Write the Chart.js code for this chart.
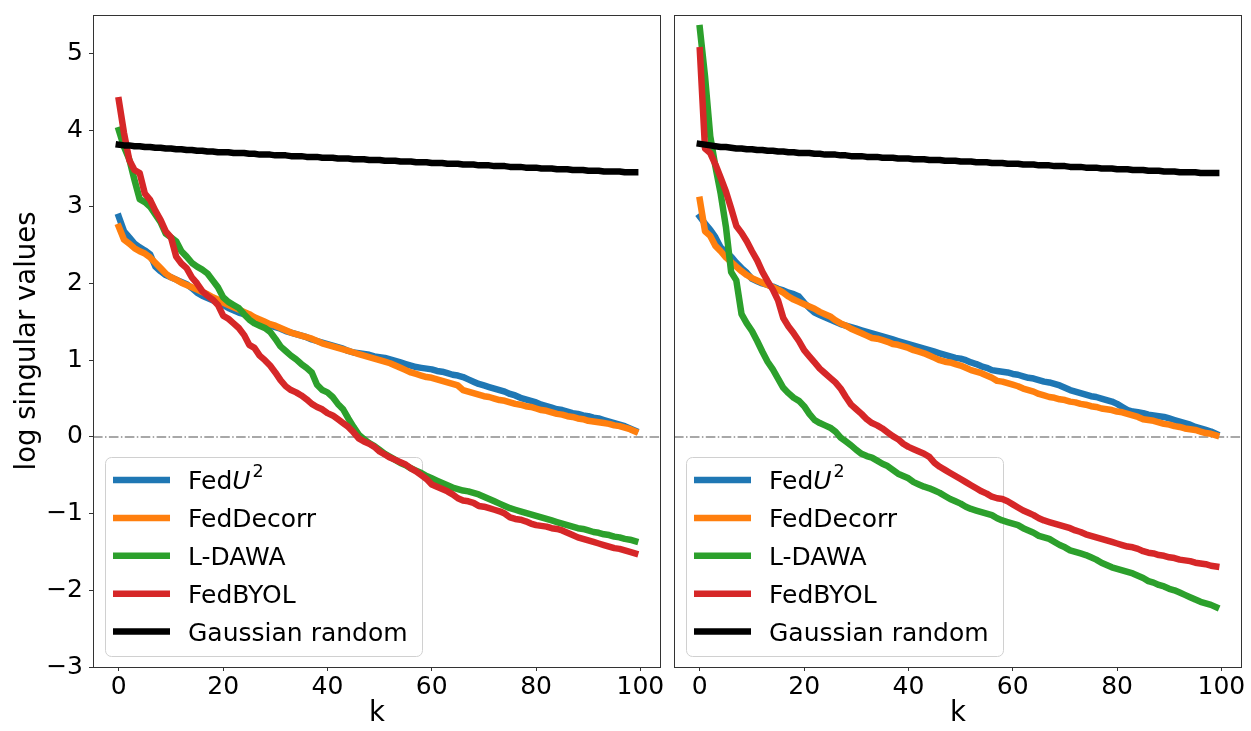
<!DOCTYPE html>
<html>
<head>
<meta charset="utf-8">
<title>log singular values</title>
<script src="https://cdn.jsdelivr.net/npm/chart.js@4.4.1/dist/chart.umd.min.js"></script>
<style>
  html, body { margin: 0; padding: 0; background: #fff; }
  #wrap { position: relative; width: 1251px; height: 731px; overflow: hidden; }
  canvas { position: absolute; top: 0; }
  #leftChart { left: 0; }
  #rightChart { left: 668px; }
</style>
</head>
<body>
<div id="wrap">
  <canvas id="leftChart" width="668" height="731"></canvas>
  <canvas id="rightChart" width="583" height="731"></canvas>
</div>
<script>
// Series and axis setup
const seriesNames = ['FedU²', 'FedDecorr', 'L-DAWA', 'FedBYOL', 'Gaussian random'];
const seriesColors = ['#1f77b4', '#ff7f0e', '#2ca02c', '#d62728', '#000000'];
const xTicks = [0, 20, 40, 60, 80, 100];
const yTicks = [-3, -2, -1, 0, 1, 2, 3, 4, 5];
const kValues = Array.from({ length: 100 }, (_, i) => i);

// Left panel
const leftFedU2 = [
  2.87, 2.68, 2.60, 2.52, 2.47, 2.43, 2.38, 2.22, 2.16, 2.11,
  2.08, 2.05, 2.02, 1.99, 1.94, 1.88, 1.84, 1.81, 1.78, 1.75,
  1.72, 1.68, 1.65, 1.62, 1.60, 1.57, 1.54, 1.51, 1.49, 1.45,
  1.43, 1.41, 1.38, 1.36, 1.34, 1.32, 1.30, 1.27, 1.25, 1.23,
  1.21, 1.19, 1.17, 1.15, 1.12, 1.10, 1.09, 1.08, 1.07, 1.05,
  1.04, 1.03, 1.01, 0.99, 0.97, 0.95, 0.93, 0.91, 0.90, 0.89,
  0.88, 0.86, 0.85, 0.83, 0.81, 0.80, 0.78, 0.75, 0.72, 0.69,
  0.67, 0.65, 0.63, 0.61, 0.59, 0.56, 0.54, 0.51, 0.49, 0.47,
  0.45, 0.42, 0.40, 0.38, 0.36, 0.35, 0.33, 0.31, 0.30, 0.28,
  0.27, 0.25, 0.24, 0.22, 0.20, 0.18, 0.16, 0.14, 0.11, 0.08
];
const leftFedDecorr = [
  2.74, 2.57, 2.52, 2.46, 2.42, 2.39, 2.34, 2.27, 2.20, 2.13,
  2.08, 2.05, 2.01, 1.98, 1.95, 1.92, 1.89, 1.86, 1.82, 1.79,
  1.75, 1.72, 1.69, 1.66, 1.63, 1.60, 1.56, 1.53, 1.50, 1.47,
  1.45, 1.42, 1.39, 1.36, 1.34, 1.32, 1.30, 1.28, 1.25, 1.22,
  1.20, 1.18, 1.16, 1.14, 1.12, 1.10, 1.08, 1.06, 1.04, 1.02,
  1.00, 0.98, 0.96, 0.93, 0.90, 0.87, 0.84, 0.82, 0.80, 0.78,
  0.77, 0.75, 0.73, 0.71, 0.69, 0.67, 0.61, 0.59, 0.57, 0.55,
  0.53, 0.52, 0.50, 0.48, 0.47, 0.45, 0.43, 0.42, 0.40, 0.39,
  0.37, 0.35, 0.34, 0.32, 0.30, 0.29, 0.27, 0.26, 0.24, 0.23,
  0.21, 0.20, 0.19, 0.18, 0.17, 0.15, 0.14, 0.12, 0.10, 0.07
];
const leftLDAWA = [
  4.00, 3.78, 3.62, 3.35, 3.10, 3.06, 3.00, 2.90, 2.80, 2.65,
  2.60, 2.55, 2.42, 2.35, 2.27, 2.22, 2.18, 2.13, 2.04, 1.95,
  1.82, 1.76, 1.72, 1.68, 1.60, 1.53, 1.48, 1.45, 1.42, 1.37,
  1.28, 1.18, 1.12, 1.06, 1.01, 0.95, 0.90, 0.84, 0.68, 0.61,
  0.58, 0.52, 0.43, 0.36, 0.24, 0.13, 0.03, -0.03, -0.08, -0.12,
  -0.17, -0.22, -0.26, -0.30, -0.34, -0.37, -0.41, -0.44, -0.47, -0.51,
  -0.54, -0.57, -0.60, -0.63, -0.66, -0.68, -0.70, -0.71, -0.73, -0.75,
  -0.78, -0.81, -0.84, -0.87, -0.90, -0.93, -0.95, -0.97, -0.99, -1.01,
  -1.03, -1.05, -1.07, -1.09, -1.11, -1.13, -1.15, -1.17, -1.19, -1.20,
  -1.22, -1.24, -1.25, -1.27, -1.28, -1.30, -1.31, -1.33, -1.34, -1.36
];
const leftFedBYOL = [
  4.39, 3.96, 3.61, 3.48, 3.44, 3.17, 3.09, 2.95, 2.83, 2.68,
  2.60, 2.35, 2.26, 2.20, 2.08, 2.00, 1.90, 1.84, 1.79, 1.72,
  1.58, 1.54, 1.48, 1.42, 1.33, 1.20, 1.16, 1.06, 1.00, 0.93,
  0.84, 0.74, 0.66, 0.61, 0.58, 0.54, 0.49, 0.43, 0.39, 0.36,
  0.31, 0.28, 0.23, 0.18, 0.13, 0.06, -0.02, -0.06, -0.09, -0.13,
  -0.19, -0.23, -0.27, -0.30, -0.33, -0.36, -0.41, -0.45, -0.50, -0.55,
  -0.62, -0.65, -0.68, -0.71, -0.75, -0.80, -0.83, -0.84, -0.86, -0.90,
  -0.91, -0.93, -0.95, -0.97, -1.00, -1.05, -1.07, -1.08, -1.10, -1.13,
  -1.15, -1.16, -1.17, -1.19, -1.20, -1.22, -1.25, -1.28, -1.31, -1.33,
  -1.35, -1.37, -1.39, -1.41, -1.43, -1.45, -1.46, -1.48, -1.50, -1.52
];
const leftGaussian = [
  3.81, 3.80, 3.80, 3.79, 3.79, 3.78, 3.78, 3.77, 3.77, 3.76,
  3.76, 3.75, 3.75, 3.74, 3.74, 3.73, 3.73, 3.72, 3.72, 3.71,
  3.71, 3.71, 3.70, 3.70, 3.70, 3.69, 3.69, 3.68, 3.68, 3.68,
  3.67, 3.67, 3.67, 3.66, 3.66, 3.66, 3.65, 3.65, 3.65, 3.64,
  3.64, 3.64, 3.63, 3.63, 3.63, 3.62, 3.62, 3.62, 3.61, 3.61,
  3.61, 3.60, 3.60, 3.60, 3.59, 3.59, 3.59, 3.58, 3.58, 3.58,
  3.57, 3.57, 3.57, 3.56, 3.56, 3.56, 3.55, 3.55, 3.55, 3.54,
  3.54, 3.54, 3.53, 3.53, 3.53, 3.52, 3.52, 3.52, 3.51, 3.51,
  3.51, 3.50, 3.50, 3.50, 3.49, 3.49, 3.49, 3.48, 3.48, 3.48,
  3.47, 3.47, 3.47, 3.46, 3.46, 3.46, 3.46, 3.45, 3.45, 3.45
];

// Right panel
const rightFedU2 = [
  2.87, 2.78, 2.70, 2.60, 2.47, 2.41, 2.35, 2.27, 2.20, 2.14,
  2.06, 2.03, 2.00, 1.98, 1.96, 1.93, 1.91, 1.88, 1.86, 1.83,
  1.75, 1.68, 1.62, 1.59, 1.56, 1.53, 1.50, 1.47, 1.45, 1.43,
  1.41, 1.39, 1.37, 1.35, 1.33, 1.31, 1.29, 1.27, 1.25, 1.23,
  1.21, 1.19, 1.17, 1.15, 1.13, 1.11, 1.09, 1.07, 1.05, 1.03,
  1.02, 1.00, 0.97, 0.95, 0.92, 0.90, 0.87, 0.86, 0.85, 0.84,
  0.82, 0.81, 0.79, 0.77, 0.76, 0.74, 0.72, 0.71, 0.69, 0.67,
  0.64, 0.61, 0.59, 0.57, 0.55, 0.53, 0.52, 0.50, 0.48, 0.46,
  0.43, 0.39, 0.35, 0.33, 0.32, 0.31, 0.29, 0.28, 0.27, 0.26,
  0.24, 0.22, 0.20, 0.18, 0.16, 0.13, 0.11, 0.09, 0.07, 0.04
];
const rightFedDecorr = [
  3.09, 2.68, 2.62, 2.49, 2.42, 2.34, 2.28, 2.22, 2.16, 2.11,
  2.07, 2.04, 2.01, 1.98, 1.95, 1.92, 1.88, 1.83, 1.79, 1.76,
  1.73, 1.70, 1.67, 1.63, 1.60, 1.57, 1.52, 1.48, 1.45, 1.41,
  1.38, 1.35, 1.32, 1.29, 1.28, 1.26, 1.24, 1.21, 1.20, 1.18,
  1.16, 1.13, 1.11, 1.09, 1.06, 1.03, 1.00, 0.98, 0.97, 0.95,
  0.93, 0.90, 0.87, 0.85, 0.83, 0.80, 0.77, 0.73, 0.72, 0.70,
  0.68, 0.66, 0.63, 0.61, 0.59, 0.56, 0.54, 0.52, 0.51, 0.49,
  0.48, 0.46, 0.45, 0.43, 0.42, 0.40, 0.39, 0.37, 0.36, 0.35,
  0.33, 0.32, 0.30, 0.28, 0.26, 0.23, 0.22, 0.21, 0.19, 0.17,
  0.16, 0.14, 0.13, 0.11, 0.10, 0.09, 0.07, 0.05, 0.04, 0.02
];
const rightLDAWA = [
  5.33, 4.70, 3.92, 3.52, 3.17, 2.74, 2.15, 2.04, 1.60, 1.48,
  1.38, 1.25, 1.11, 0.98, 0.88, 0.76, 0.64, 0.57, 0.51, 0.47,
  0.40, 0.30, 0.22, 0.18, 0.15, 0.12, 0.07, -0.01, -0.06, -0.11,
  -0.17, -0.22, -0.25, -0.27, -0.31, -0.35, -0.38, -0.43, -0.48, -0.51,
  -0.54, -0.59, -0.62, -0.65, -0.67, -0.70, -0.73, -0.77, -0.81, -0.84,
  -0.87, -0.91, -0.94, -0.96, -0.98, -1.00, -1.02, -1.06, -1.09, -1.11,
  -1.13, -1.15, -1.19, -1.22, -1.25, -1.29, -1.31, -1.33, -1.37, -1.41,
  -1.44, -1.48, -1.50, -1.52, -1.54, -1.57, -1.60, -1.64, -1.67, -1.70,
  -1.72, -1.74, -1.76, -1.78, -1.81, -1.84, -1.88, -1.90, -1.93, -1.95,
  -1.98, -2.00, -2.03, -2.06, -2.09, -2.12, -2.15, -2.17, -2.19, -2.22
];
const rightFedBYOL = [
  5.04, 3.76, 3.70, 3.55, 3.38, 3.20, 2.98, 2.75, 2.66, 2.55,
  2.42, 2.30, 2.15, 2.03, 1.92, 1.78, 1.55, 1.44, 1.35, 1.25,
  1.13, 1.05, 0.97, 0.89, 0.83, 0.77, 0.71, 0.63, 0.52, 0.42,
  0.36, 0.30, 0.23, 0.18, 0.15, 0.11, 0.06, 0.01, -0.03, -0.09,
  -0.13, -0.16, -0.19, -0.22, -0.26, -0.34, -0.39, -0.43, -0.47, -0.51,
  -0.55, -0.59, -0.63, -0.67, -0.71, -0.74, -0.78, -0.80, -0.81, -0.84,
  -0.88, -0.92, -0.96, -0.99, -1.02, -1.06, -1.09, -1.11, -1.13, -1.15,
  -1.17, -1.19, -1.22, -1.24, -1.27, -1.29, -1.31, -1.33, -1.35, -1.37,
  -1.39, -1.41, -1.43, -1.44, -1.46, -1.49, -1.51, -1.52, -1.54, -1.55,
  -1.57, -1.58, -1.60, -1.61, -1.62, -1.64, -1.65, -1.66, -1.68, -1.69
];
const rightGaussian = [
  3.82, 3.81, 3.80, 3.79, 3.78, 3.78, 3.77, 3.76, 3.76, 3.75,
  3.75, 3.74, 3.74, 3.73, 3.73, 3.72, 3.72, 3.71, 3.71, 3.70,
  3.70, 3.70, 3.69, 3.69, 3.68, 3.68, 3.68, 3.67, 3.67, 3.66,
  3.66, 3.66, 3.65, 3.65, 3.65, 3.64, 3.64, 3.64, 3.63, 3.63,
  3.63, 3.62, 3.62, 3.62, 3.61, 3.61, 3.61, 3.60, 3.60, 3.60,
  3.59, 3.59, 3.59, 3.58, 3.58, 3.58, 3.57, 3.57, 3.57, 3.56,
  3.56, 3.56, 3.55, 3.55, 3.55, 3.54, 3.54, 3.54, 3.53, 3.53,
  3.53, 3.52, 3.52, 3.52, 3.51, 3.51, 3.51, 3.50, 3.50, 3.50,
  3.49, 3.49, 3.49, 3.48, 3.48, 3.48, 3.47, 3.47, 3.47, 3.46,
  3.46, 3.46, 3.45, 3.45, 3.45, 3.45, 3.44, 3.44, 3.44, 3.44
];

const FONT = 'DejaVu Sans';
const AXIS_COLOR = '#333333';

function formatTick(v) {
  return v < 0 ? '\u2212' + Math.abs(v) : String(v);
}

function buildDatasets(panel) {
  return panel.map((vals, i) => ({
    label: seriesNames[i],
    data: vals.map((v, k) => ({ x: kValues[k], y: v })),
    borderColor: seriesColors[i],
    backgroundColor: seriesColors[i],
    borderWidth: 6.5,
    borderJoinStyle: 'round',
    borderCapStyle: 'square',
    pointRadius: 0,
    tension: 0,
    fill: false,
    order: panel.length - i
  }));
}

// "FedU²" style labels: plain prefix, italic letter, small raised digit
function drawLegendText(ctx, text, x, y) {
  const m = text.match(/^(.*?)([A-Z])²$/);
  ctx.font = '25px "' + FONT + '"';
  if (!m) {
    ctx.fillText(text, x, y);
    return;
  }
  ctx.fillText(m[1], x, y);
  x += ctx.measureText(m[1]).width;
  ctx.font = 'italic 25px "' + FONT + '"';
  ctx.fillText(m[2], x, y);
  x += ctx.measureText(m[2]).width + 2;
  ctx.font = '17.5px "' + FONT + '"';
  ctx.fillText('2', x, y - 12);
}

const panelPlugin = {
  id: 'panelDecor',
  beforeDatasetsDraw(chart) {
    const { ctx, chartArea } = chart;
    ctx.save();

    // dash-dot reference line at zero
    const y0 = chart.scales.y.getPixelForValue(0);
    ctx.strokeStyle = '#8c8c8c';
    ctx.lineWidth = 1.5;
    ctx.setLineDash([9.6, 2.4, 1.5, 2.4]);
    ctx.beginPath();
    ctx.moveTo(chartArea.left, y0);
    ctx.lineTo(chartArea.right, y0);
    ctx.stroke();
    ctx.setLineDash([]);

    // legend box, lower left; the curves are drawn over it
    const bw = 317, bh = 199;
    const bx = chartArea.left + 12;
    const by = chartArea.bottom - 11 - bh;
    ctx.beginPath();
    ctx.roundRect(bx + 0.5, by + 0.5, bw, bh, 6);
    ctx.fillStyle = '#ffffff';
    ctx.fill();
    ctx.strokeStyle = '#d0d0d0';
    ctx.lineWidth = 1;
    ctx.stroke();

    chart.data.datasets.forEach((ds, i) => {
      const cy = by + 23 + i * 37.9;
      ctx.strokeStyle = ds.borderColor;
      ctx.lineWidth = 6.5;
      ctx.lineCap = 'butt';
      ctx.beginPath();
      ctx.moveTo(bx + 8, cy);
      ctx.lineTo(bx + 65, cy);
      ctx.stroke();
      ctx.fillStyle = '#000';
      ctx.textBaseline = 'alphabetic';
      ctx.textAlign = 'left';
      drawLegendText(ctx, ds.label, bx + 83, cy + 9);
    });
    ctx.restore();
  },
  afterDraw(chart) {
    // axes frame
    const { ctx, chartArea } = chart;
    ctx.save();
    ctx.strokeStyle = AXIS_COLOR;
    ctx.lineWidth = 1;
    ctx.strokeRect(Math.round(chartArea.left) + 0.5, Math.round(chartArea.top) + 0.5,
      Math.round(chartArea.right - chartArea.left) - 1, Math.round(chartArea.bottom - chartArea.top));
    ctx.restore();
  }
};

function makeChart(canvasId, panel, showY, padding) {
  const tickFont = { family: FONT, size: 25 };
  const titleFont = { family: FONT, size: 27.5 };
  return new Chart(document.getElementById(canvasId), {
    type: 'line',
    data: { datasets: buildDatasets(panel) },
    plugins: [panelPlugin],
    options: {
      responsive: false,
      devicePixelRatio: 1,
      animation: false,
      events: [],
      layout: { padding: padding },
      plugins: { legend: { display: false }, tooltip: { enabled: false } },
      scales: {
        x: {
          type: 'linear',
          min: -4.95,
          max: 103.95,
          afterBuildTicks: s => { s.ticks = xTicks.map(v => ({ value: v })); },
          afterFit: s => { s.height = 64; s.paddingLeft = 0; s.paddingRight = 0; },
          border: { display: false },
          grid: { drawOnChartArea: false, drawTicks: true, tickLength: 4, tickColor: AXIS_COLOR, tickWidth: 1 },
          ticks: { color: '#000', font: tickFont, padding: 1, maxRotation: 0, autoSkip: false, callback: formatTick },
          title: { display: true, text: 'k', color: '#000', font: titleFont, padding: { top: 0, bottom: 1 } }
        },
        y: {
          type: 'linear',
          display: showY,
          min: -3,
          max: 5.5,
          afterBuildTicks: s => { s.ticks = yTicks.map(v => ({ value: v })); },
          afterFit: s => { s.width = showY ? 93 : 0; s.paddingTop = 0; s.paddingBottom = 0; },
          border: { display: false },
          grid: { drawOnChartArea: false, drawTicks: true, tickLength: 4, tickColor: AXIS_COLOR, tickWidth: 1 },
          ticks: { color: '#000', font: tickFont, padding: 6, autoSkip: false, callback: formatTick },
          title: { display: true, text: 'log singular values', color: '#000', font: titleFont, padding: { top: 11, bottom: 0 } }
        }
      }
    }
  });
}

makeChart('leftChart',
  [leftFedU2, leftFedDecorr, leftLDAWA, leftFedBYOL, leftGaussian],
  true, { top: 15, right: 7, bottom: 0, left: 0 });
makeChart('rightChart',
  [rightFedU2, rightFedDecorr, rightLDAWA, rightFedBYOL, rightGaussian],
  false, { top: 15, right: 9, bottom: 0, left: 6 });
</script>
</body>
</html>
